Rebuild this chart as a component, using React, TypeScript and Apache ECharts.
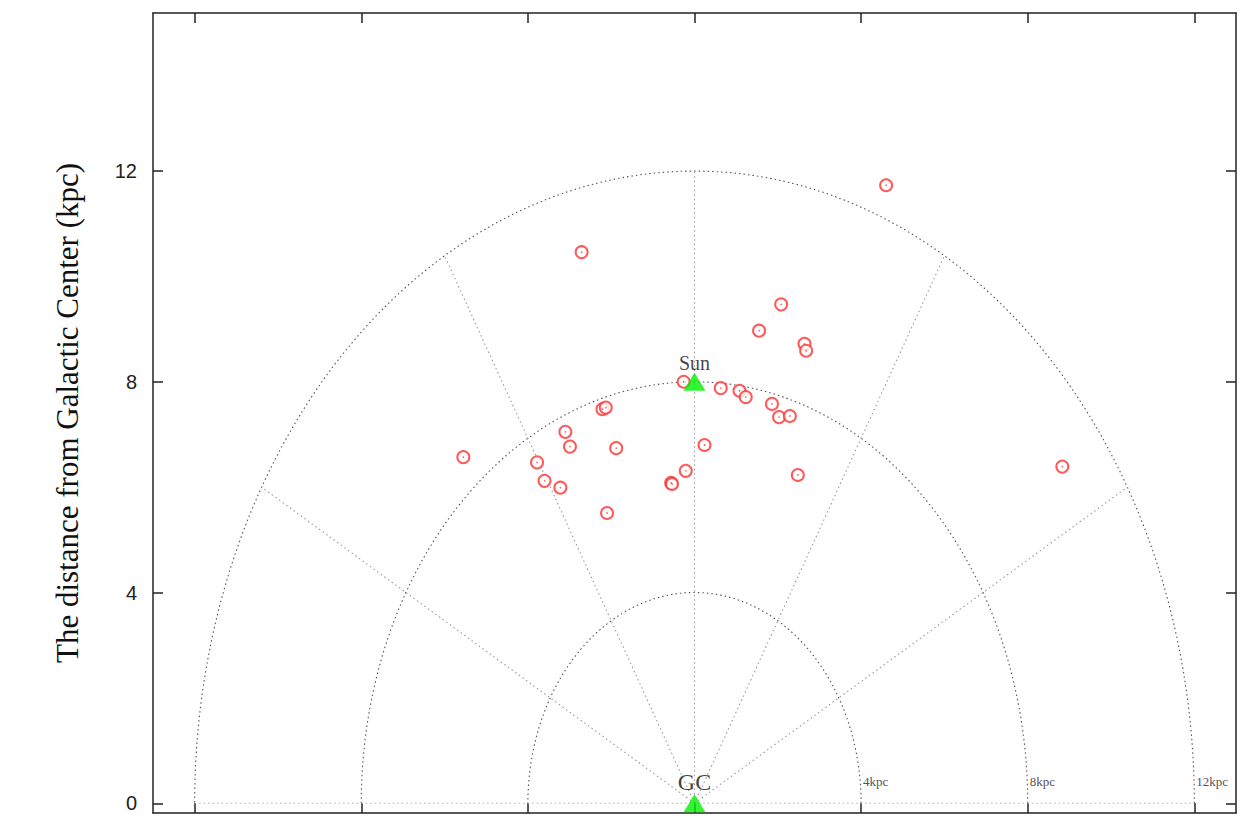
import React, { useEffect, useRef } from "react";
import * as echarts from "echarts";

// Galactocentric positions of the sources (kpc): x along the plane, y distance from GC
const sourceX = [
  -2.71, -2.21, -2.13, -3.10, -2.99, -1.88, -5.55, -3.78, -3.60, -3.22, -2.10,
  -0.26, 0.63, 1.08, 1.23, 0.24, -0.21, -0.56, -0.54, 2.08, 1.55, 2.64, 2.68,
  1.86, 2.03, 2.29, 2.48, 4.60, 8.83,
];
const sourceY = [
  10.46, 7.48, 7.51, 7.05, 6.77, 6.74, 6.57, 6.47, 6.12, 5.99, 5.51,
  8.0, 7.88, 7.83, 7.71, 6.80, 6.31, 6.08, 6.06, 9.47, 8.97, 8.72, 8.59,
  7.58, 7.33, 7.35, 6.23, 11.73, 6.39,
];

// Reference objects
const landmarks = [
  { name: "Sun", x: 0, y: 8, fontSize: 20 },
  { name: "GC", x: 0, y: 0, fontSize: 24 },
];

const xTicks = [-12, -8, -4, 0, 4, 8, 12];
const yTicks = [0, 4, 8, 12];
const ringRadii = [4, 8, 12];
const ringLabels = ["4kpc", "8kpc", "12kpc"];
const spokeAngles = [30, 60, 90, 120, 150];

const X_MIN = -13;
const X_MAX = 13;
const Y_MIN = -0.185;
const Y_MAX = 15;

const SERIF = "Liberation Serif, Times New Roman, serif";

function arcPoints(r: number): number[][] {
  const pts: number[][] = [];
  for (let a = 0; a <= 180; a += 1) {
    const t = (a * Math.PI) / 180;
    pts.push([r * Math.cos(t), r * Math.sin(t)]);
  }
  return pts;
}

function frameAxis(position: string, ticks: number[], extra: any = {}) {
  return {
    type: "value",
    position,
    axisLine: { show: true, onZero: false, lineStyle: { color: "#222", width: 1.5 } },
    axisTick: { show: true, inside: true, length: 10, customValues: ticks, lineStyle: { color: "#222", width: 1.5 } },
    axisLabel: { show: false },
    splitLine: { show: false },
    ...extra,
  };
}

export default function App() {
  const ref = useRef<HTMLDivElement>(null);

  useEffect(() => {
    if (!ref.current) return;
    const chart = echarts.init(ref.current, null, { renderer: "svg" });
    const outer = ringRadii[ringRadii.length - 1];

    const ringSeries = ringRadii.map((r) => ({
      type: "line",
      data: arcPoints(r),
      showSymbol: false,
      silent: true,
      z: 1,
      lineStyle: { color: "#555", width: 1.1, type: [1.5, 3] },
    }));

    const spokeSeries = spokeAngles.map((a) => {
      const t = (a * Math.PI) / 180;
      return {
        type: "line",
        data: [
          [0, 0],
          [outer * Math.cos(t), outer * Math.sin(t)],
        ],
        showSymbol: false,
        silent: true,
        z: 1,
        lineStyle: { color: "#9a9a9a", width: 1.1, type: [1.5, 3] },
      };
    });

    const baseSeries = {
      type: "line",
      data: [
        [-outer, 0],
        [outer, 0],
      ],
      showSymbol: false,
      silent: true,
      z: 1,
      lineStyle: { color: "#b0b0b0", width: 1.1, type: [1.5, 3] },
    };

    const ringLabelSeries = {
      type: "scatter",
      symbolSize: 0,
      silent: true,
      z: 2,
      data: ringRadii.map((r, i) => ({ value: [r, 0], name: ringLabels[i] })),
      label: {
        show: true,
        position: "right",
        distance: 2,
        offset: [0, -22],
        formatter: "{b}",
        fontFamily: SERIF,
        fontSize: 13,
        color: "#222",
      },
    };

    const points = sourceX.map((x, i) => [x, sourceY[i]]);

    const option = {
      animation: false,
      backgroundColor: "#fff",
      grid: { left: 153, right: 13, top: 13, bottom: 6, containLabel: false },
      xAxis: [
        frameAxis("bottom", xTicks, { min: X_MIN, max: X_MAX }),
        frameAxis("top", xTicks, { min: X_MIN, max: X_MAX }),
      ],
      yAxis: [
        frameAxis("left", yTicks, {
          min: Y_MIN,
          max: Y_MAX,
          name: "The distance from Galactic Center (kpc)",
          nameLocation: "middle",
          nameGap: 70,
          nameTextStyle: { fontFamily: SERIF, fontSize: 31, color: "#111" },
          axisLabel: {
            show: true,
            customValues: yTicks,
            margin: 16,
            fontFamily: "Liberation Sans, Arial, sans-serif",
            fontSize: 20,
            color: "#222",
          },
        }),
        frameAxis("right", yTicks, { min: Y_MIN, max: Y_MAX }),
      ],
      series: [
        ...ringSeries,
        ...spokeSeries,
        baseSeries,
        ringLabelSeries,
        {
          type: "scatter",
          name: "sources",
          data: points,
          symbol: "emptyCircle",
          symbolSize: 12,
          z: 3,
          itemStyle: { color: "#ff3030", borderColor: "#ff3030", borderWidth: 1.3 },
        },
        {
          type: "scatter",
          name: "source centres",
          data: points,
          symbol: "circle",
          symbolSize: 1.6,
          z: 4,
          itemStyle: { color: "#ff3030" },
        },
        {
          type: "scatter",
          name: "landmarks",
          data: landmarks.map((l) => ({
            value: [l.x, l.y],
            name: l.name,
            label: { fontSize: l.fontSize },
          })),
          symbol: "triangle",
          symbolSize: [22, 18],
          z: 5,
          itemStyle: { color: "#00f000" },
          label: {
            show: true,
            position: "top",
            distance: 0,
            formatter: "{b}",
            fontFamily: SERIF,
            color: "#111",
          },
        },
      ],
    };

    chart.setOption(option as any);
    return () => chart.dispose();
  }, []);

  return (
    <div
      ref={ref}
      style={{ position: "absolute", left: 0, top: 0, width: 1249, height: 819 }}
    />
  );
}
